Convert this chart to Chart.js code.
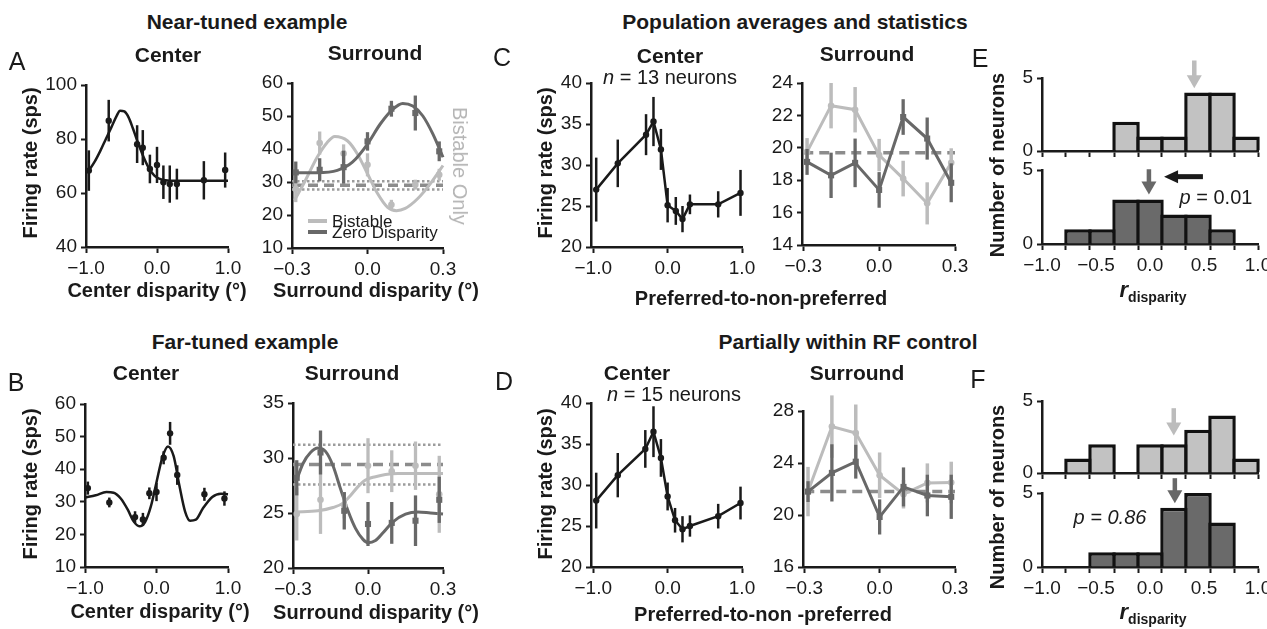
<!DOCTYPE html>
<html>
<head>
<meta charset="utf-8">
<script src="https://cdn.jsdelivr.net/npm/chart.js@4.4.1/dist/chart.umd.min.js"></script>
<style>
html, body { margin: 0; padding: 0; background: #fff; }
#fig { position: relative; width: 1267px; height: 629px; overflow: hidden; font-family: "Liberation Sans", Arial, sans-serif; color: #1a1a1a; }
#fig canvas { position: absolute; }
.t { position: absolute; white-space: nowrap; line-height: 1; transform: translate(-50%, -50%); }
.sw { position: absolute; height: 4px; }
</style>
</head>
<body>
<div id="fig"></div>
<script>
// ---- tick labels ----
const tickCenterX = [-1, 0, 1];
const tickSurrX = [-0.3, 0, 0.3];
const tickAcenY = [40, 60, 80, 100];
const tickAsurY = [10, 20, 30, 40, 50, 60];
const tickBcenY = [10, 20, 30, 40, 50, 60];
const tickBsurY = [20, 25, 30, 35];
const tickCcenY = [20, 25, 30, 35, 40];
const tickCsurY = [14, 16, 18, 20, 22, 24];
const tickDcenY = [20, 25, 30, 35, 40];
const tickDsurY = [16, 20, 24, 28];
const tickHistY = [0, 5];
const tickHistX = [-1, -0.5, 0, 0.5, 1];
const binEdges = [-1, -0.778, -0.556, -0.333, -0.111, 0.111, 0.333, 0.556, 0.778, 1];
const binCenters = [-0.889, -0.667, -0.444, -0.222, 0, 0.222, 0.444, 0.667, 0.889];

// ---- A: near-tuned example ----
const aCenX = [-0.96, -0.68, -0.28, -0.2, -0.1, 0.0, 0.09, 0.18, 0.28, 0.66, 0.96];
const aCenY = [68.3, 86.8, 78.1, 76.8, 68.9, 70.4, 64.0, 63.3, 63.3, 64.7, 68.5];
const aCenErr = [7.5, 7.7, 7.0, 6.5, 5.3, 6.7, 6.2, 6.9, 5.7, 7.1, 6.5];
const aFitX = [-0.96, -0.88, -0.8, -0.72, -0.64, -0.57, -0.52, -0.46, -0.4, -0.34, -0.28, -0.2, -0.12, -0.04, 0.04, 0.12, 0.25, 0.5, 1.0];
const aFitY = [68.3, 71.5, 75.5, 80, 84.5, 88.5, 90.5, 90.2, 88, 84, 79.5, 74, 69.5, 66.5, 65.2, 64.7, 64.5, 64.5, 64.5];

const surrX = [-0.285, -0.19, -0.095, 0.0, 0.095, 0.19, 0.285];
const aSurZeroY = [32.9, 33.7, 34.5, 42.3, 52.2, 50.9, 39.3];
const aSurZeroErr = [3.3, 3.5, 5.0, 2.8, 2.4, 5.3, 3.0];
const aSurBiY = [27.9, 41.8, 38.6, 35.2, 23.1, 29.2, 32.2];
const aSurBiErr = [4.0, 3.5, 2.8, 3.5, 1.5, 1.5, 1.8];
const aZeroFitX = [-0.29, -0.2, -0.12, -0.06, 0.0, 0.05, 0.1, 0.14, 0.18, 0.22, 0.26, 0.3];
const aZeroFitY = [32.8, 32.8, 33.5, 36, 41.5, 47.5, 52, 53.8, 53, 50, 44.5, 37.5];
const aBiFitX = [-0.29, -0.25, -0.2, -0.16, -0.13, -0.08, -0.04, 0.0, 0.04, 0.08, 0.115, 0.15, 0.2, 0.25, 0.3];
const aBiFitY = [24.5, 30, 37.5, 42, 43.8, 42.5, 38.5, 32.5, 26.5, 22.3, 21.3, 22, 25, 29.5, 35];
const aRef = [27.7, 29.0, 30.2];

// ---- B: far-tuned example ----
const bCenX = [-0.96, -0.66, -0.3, -0.19, -0.1, 0.0, 0.1, 0.19, 0.29, 0.67, 0.95];
const bCenY = [34.2, 29.8, 25.3, 24.6, 32.6, 33.0, 43.5, 51.0, 38.2, 32.3, 31.0];
const bCenErr = [2.0, 1.5, 1.8, 2.0, 1.8, 2.8, 2.0, 3.5, 3.0, 2.0, 2.2];
const bFitX = [-1.0, -0.85, -0.7, -0.6, -0.5, -0.4, -0.32, -0.24, -0.16, -0.08, 0.0, 0.08, 0.16, 0.24, 0.32, 0.4, 0.47, 0.55, 0.65, 0.78, 0.9, 1.0];
const bFitY = [31.3, 32.0, 33.0, 32.8, 31.0, 27.5, 24.0, 22.5, 23.8, 28.5, 36.0, 43.5, 47.0, 44.0, 35.0, 27.0, 24.2, 24.5, 28.0, 31.5, 32.5, 32.3];

const bSurZeroY = [28.2, 30.5, 25.2, 24.0, 24.1, 24.3, 26.2];
const bSurZeroErr = [1.6, 2.0, 1.7, 2.0, 1.9, 2.3, 2.1];
const bSurBiY = [24.9, 26.2, 25.7, 29.3, 28.8, 29.3, 26.7];
const bSurBiErr = [2.4, 3.1, 1.2, 2.5, 1.9, 2.2, 3.5];
const bZeroFitX = [-0.29, -0.26, -0.23, -0.2, -0.17, -0.14, -0.11, -0.08, -0.05, -0.02, 0.0, 0.03, 0.06, 0.1, 0.15, 0.2, 0.25, 0.3];
const bZeroFitY = [27.7, 29.5, 30.5, 30.9, 30.6, 29.3, 27.2, 25.2, 23.6, 22.6, 22.3, 22.5, 23.2, 24.2, 24.9, 25.1, 25.0, 24.9];
const bBiFitX = [-0.29, -0.2, -0.14, -0.1, -0.07, -0.04, -0.01, 0.03, 0.07, 0.12, 0.2, 0.3];
const bBiFitY = [25.1, 25.2, 25.5, 25.9, 26.6, 27.4, 28.0, 28.3, 28.5, 28.6, 28.6, 28.6];
const bRef = [27.6, 29.4, 31.2];

// ---- C: population averages ----
const cCenX = [-0.96, -0.67, -0.29, -0.19, -0.09, 0.0, 0.11, 0.2, 0.3, 0.68, 0.98];
const cCenY = [27.0, 30.2, 33.7, 35.3, 31.9, 25.1, 24.4, 23.4, 25.2, 25.2, 26.6];
const cCenErr = [3.9, 2.9, 2.5, 3.0, 2.5, 2.1, 1.7, 1.6, 1.2, 1.6, 2.8];
const cSurBiY = [19.75, 22.6, 22.35, 19.55, 18.1, 16.57, 19.07];
const cSurBiErr = [0.85, 1.4, 1.4, 1.0, 1.1, 1.3, 0.9];
const cSurZeroY = [19.13, 18.3, 19.07, 17.4, 21.9, 20.57, 17.84];
const cSurZeroErr = [0.8, 1.4, 1.5, 1.1, 1.1, 1.3, 1.2];
const cRef = 19.7;

// ---- D: partially within RF control ----
const dCenX = [-0.96, -0.67, -0.3, -0.19, -0.09, 0.0, 0.1, 0.2, 0.3, 0.68, 0.98];
const dCenY = [28.1, 31.2, 34.4, 36.5, 33.3, 28.6, 25.7, 24.6, 25.0, 26.2, 27.8];
const dCenErr = [3.4, 2.7, 2.3, 3.1, 2.3, 1.7, 1.5, 1.6, 1.3, 1.5, 2.0];
const dSurBiY = [21.8, 26.8, 26.3, 23.06, 21.6, 22.47, 22.5];
const dSurBiErr = [1.9, 2.4, 2.2, 1.75, 1.1, 1.5, 1.6];
const dSurZeroY = [21.8, 23.24, 24.1, 19.85, 22.16, 21.5, 21.4];
const dSurZeroErr = [0.8, 2.2, 1.3, 1.35, 1.5, 1.6, 1.7];
const dRef = 21.8;

// ---- E, F: r_disparity histograms ----
const eBistable = [0, 0, 0, 2, 1, 1, 4, 4, 1];
const eZero = [0, 1, 1, 3, 3, 2, 2, 1, 0];
const fBistable = [0, 1, 2, 0, 2, 2, 3, 4, 1];
const fZero = [0, 0, 1, 1, 1, 4, 5, 3, 0];
const meanE = [0.41, -0.01];
const meanF = [0.22, 0.23];

const ink = '#1a1a1a', light = '#bcbcbc', dark = '#686868', refGray = '#8c8c8c', dotGray = '#9c9c9c';
const histLight = '#c2c2c2', histDark = '#6a6a6a';
Chart.defaults.font.family = '"Liberation Sans", Arial, sans-serif';
Chart.defaults.color = ink;

const fig = document.getElementById('fig');
const PL = 70, PT = 32, PR = 45, PB = 45;

// error bars drawn under each dataset, through its own scales
const errorBars = {
    id: 'errorBars',
    beforeDatasetDraw(chart, args) {
        const ds = chart.data.datasets[args.index];
        if (!ds.errors) return;
        const ctx = chart.ctx, xs = chart.scales.x, ys = chart.scales.y;
        ctx.save();
        ctx.strokeStyle = ds.borderColor; ctx.lineWidth = ds.errWidth || 2.5;
        ds.data.forEach((p, i) => {
            const px = xs.getPixelForValue(p.x);
            ctx.beginPath();
            ctx.moveTo(px, ys.getPixelForValue(p.y - ds.errors[i]));
            ctx.lineTo(px, ys.getPixelForValue(p.y + ds.errors[i]));
            ctx.stroke();
        });
        ctx.restore();
    }
};

function drawArrow(ctx, x0, y0, x1, y1, color, shaft, headL, headW) {
    const ang = Math.atan2(y1 - y0, x1 - x0), len = Math.hypot(x1 - x0, y1 - y0);
    ctx.save(); ctx.translate(x0, y0); ctx.rotate(ang); ctx.fillStyle = color;
    ctx.fillRect(0, -shaft / 2, len - headL + 1, shaft);
    ctx.beginPath(); ctx.moveTo(len, 0); ctx.lineTo(len - headL, -headW / 2); ctx.lineTo(len - headL, headW / 2);
    ctx.closePath(); ctx.fill(); ctx.restore();
}
function arrowPlugin(items) {
    return {
        id: 'arrows',
        afterDatasetsDraw(chart) {
            const xs = chart.scales.x, ys = chart.scales.y;
            items.forEach(a => drawArrow(chart.ctx, xs.getPixelForValue(a.x0), ys.getPixelForValue(a.y0),
                xs.getPixelForValue(a.x1), ys.getPixelForValue(a.y1), a.color, a.shaft, a.headL, a.headW));
        }
    };
}

function near(v, list) { return list.some(u => Math.abs(u - v) < 1e-6); }
function fmt1(v) { return (v < 0 ? '\u2212' : '') + Math.abs(v).toFixed(1); }

function xAxis(min, max, ticks, labels, marks) {
    labels = labels || ticks; marks = marks || ticks;
    return {
        type: 'linear', min, max, offset: false,
        afterBuildTicks: s => { s.ticks = ticks.map(v => ({value: v})); },
        afterFit: s => { s.height = PB; },
        border: {color: ink, width: 2.5},
        grid: {offset: false, drawOnChartArea: false, tickLength: 6, tickWidth: 2,
            tickColor: c => (c.tick && near(c.tick.value, marks)) ? ink : 'rgba(0,0,0,0)'},
        ticks: {autoSkip: false, maxRotation: 0, minRotation: 0, padding: 4, font: {size: 19},
            callback: v => near(v, labels) ? fmt1(v) : ''}
    };
}
function yAxis(min, max, ticks) {
    return {
        type: 'linear', min, max,
        afterBuildTicks: s => { s.ticks = ticks.map(v => ({value: v})); },
        afterFit: s => { s.width = PL; },
        border: {color: ink, width: 2.5},
        grid: {drawOnChartArea: false, tickLength: 5, tickWidth: 2, tickColor: ink},
        ticks: {padding: 4, font: {size: 19}, callback: v => String(v)}
    };
}

function pts(xs, ys) { return xs.map((x, i) => ({x, y: ys[i]})); }
function markers(xs, ys, errs, color, style, r, ew) {
    return {data: pts(xs, ys), errors: errs, errWidth: ew, showLine: false, pointStyle: style, pointRadius: r,
        pointBackgroundColor: color, pointBorderWidth: 0, borderColor: color, clip: false};
}
function joined(xs, ys, errs, color, style, r, ew, lw) {
    return Object.assign(markers(xs, ys, errs, color, style, r, ew), {showLine: true, borderWidth: lw, tension: 0});
}
function curve(xs, ys, color, lw) {
    return {data: pts(xs, ys), showLine: true, pointRadius: 0, borderColor: color, borderWidth: lw,
        cubicInterpolationMode: 'monotone', clip: false};
}
function hline(y, x0, x1, color, lw, dash) {
    return {data: [{x: x0, y}, {x: x1, y}], showLine: true, pointRadius: 0, borderColor: color,
        borderWidth: lw, borderDash: dash, clip: false};
}
// bars overlap by half a border so shared edges are one stroke wide
function bars(counts, fill) {
    return {type: 'bar', data: pts(binCenters, counts), backgroundColor: fill, borderColor: '#111', borderWidth: 3.5,
        barThickness: 'flex', barPercentage: 1.146, categoryPercentage: 1, inflateAmount: 0, clip: false};
}

function makeChart(box, type, datasets, scales, extra) {
    const [l, t, r, b] = box;
    const w = r - l + PL + PR, h = b - t + PT + PB;
    const cv = document.createElement('canvas');
    cv.width = w; cv.height = h;
    cv.style.left = (l - PL) + 'px'; cv.style.top = (t - PT) + 'px';
    cv.style.width = w + 'px'; cv.style.height = h + 'px';
    fig.appendChild(cv);
    return new Chart(cv, {
        type: type,
        data: {datasets: datasets},
        options: {
            responsive: false, animation: false, devicePixelRatio: 1,
            layout: {padding: {left: 0, top: PT, right: PR, bottom: 0}, autoPadding: false},
            plugins: {legend: {display: false}, tooltip: {enabled: false}},
            scales: scales
        },
        plugins: [errorBars].concat(extra || [])
    });
}

// A center
makeChart([86, 85, 228, 247], 'scatter', [
    markers(aCenX, aCenY, aCenErr, ink, 'circle', 3.2, 2.5),
    curve(aFitX, aFitY, ink, 2.5)
], {x: xAxis(-1, 1, tickCenterX), y: yAxis(40, 100, tickAcenY)});

// A surround
makeChart([292, 83, 443, 248], 'scatter', [
    markers(surrX, aSurZeroY, aSurZeroErr, dark, 'rect', 4.3, 3.3),
    markers(surrX, aSurBiY, aSurBiErr, light, 'circle', 3.3, 3.3),
    curve(aZeroFitX, aZeroFitY, dark, 3),
    curve(aBiFitX, aBiFitY, light, 3),
    hline(aRef[0], -0.3, 0.3, dotGray, 2.5, [2.5, 2.5]),
    hline(aRef[1], -0.3, 0.3, refGray, 3.5, [10, 6]),
    hline(aRef[2], -0.3, 0.3, dotGray, 2.5, [2.5, 2.5])
], {x: xAxis(-0.3, 0.3, tickSurrX), y: yAxis(10, 60, tickAsurY)});

// B center
makeChart([85, 404, 228, 567], 'scatter', [
    markers(bCenX, bCenY, bCenErr, ink, 'circle', 3.2, 2.5),
    curve(bFitX, bFitY, ink, 2.5)
], {x: xAxis(-1, 1, tickCenterX), y: yAxis(10, 60, tickBcenY)});

// B surround
makeChart([293, 403, 443, 568], 'scatter', [
    markers(surrX, bSurZeroY, bSurZeroErr, dark, 'rect', 4.3, 3.3),
    markers(surrX, bSurBiY, bSurBiErr, light, 'circle', 3.3, 3.3),
    curve(bZeroFitX, bZeroFitY, dark, 3),
    curve(bBiFitX, bBiFitY, light, 3),
    hline(bRef[0], -0.3, 0.3, dotGray, 2.5, [2.5, 2.5]),
    hline(bRef[1], -0.3, 0.3, refGray, 3.5, [10, 6]),
    hline(bRef[2], -0.3, 0.3, dotGray, 2.5, [2.5, 2.5])
], {x: xAxis(-0.3, 0.3, tickSurrX), y: yAxis(20, 35, tickBsurY)});

// C center / surround
makeChart([591, 83, 742, 247], 'scatter', [
    joined(cCenX, cCenY, cCenErr, ink, 'circle', 3.2, 2.5, 2.5)
], {x: xAxis(-1.03, 1, tickCenterX), y: yAxis(20, 40, tickCcenY)});
makeChart([802, 83, 955, 245], 'scatter', [
    joined(surrX, cSurZeroY, cSurZeroErr, dark, 'rect', 4.3, 3.3, 3),
    joined(surrX, cSurBiY, cSurBiErr, light, 'circle', 3.3, 3.5, 3),
    hline(cRef, -0.3, 0.3, refGray, 3.5, [10, 6])
], {x: xAxis(-0.305, 0.3, tickSurrX), y: yAxis(14, 24, tickCsurY)});

// D center / surround
makeChart([591, 403, 742, 567], 'scatter', [
    joined(dCenX, dCenY, dCenErr, ink, 'circle', 3.2, 2.5, 2.5)
], {x: xAxis(-1.03, 1, tickCenterX), y: yAxis(20, 40, tickDcenY)});
makeChart([803, 411, 955, 567], 'scatter', [
    joined(surrX, dSurZeroY, dSurZeroErr, dark, 'rect', 4.3, 3.3, 3),
    joined(surrX, dSurBiY, dSurBiErr, light, 'circle', 3.3, 3.5, 3),
    hline(dRef, -0.3, 0.3, refGray, 3.5, [10, 6])
], {x: xAxis(-0.305, 0.3, tickSurrX), y: yAxis(16, 28, tickDsurY)});

// histograms
const histTicks = binEdges.concat([-0.5, 0, 0.5]).sort((a, b) => a - b);
function hist(box, counts, fill, withLabels, arrows) {
    return makeChart(box, 'bar', [bars(counts, fill)],
        {x: xAxis(-1, 1, histTicks, withLabels ? tickHistX : [], binEdges), y: yAxis(0, 5, tickHistY)},
        [arrowPlugin(arrows)]);
}
const vArrow = {shaft: 4.5, headL: 13, headW: 15};
hist([1042, 78, 1258, 151], eBistable, histLight, false, [
    Object.assign({x0: meanE[0], x1: meanE[0], y0: 6.2, y1: 4.3, color: light}, vArrow)
]);
hist([1042, 170, 1258, 244], eZero, histDark, true, [
    Object.assign({x0: meanE[1], x1: meanE[1], y0: 5.05, y1: 3.35, color: dark}, vArrow),
    {x0: 0.49, x1: 0.13, y0: 4.55, y1: 4.55, color: ink, shaft: 5, headL: 14, headW: 13}
]);
hist([1042, 401, 1258, 473], fBistable, histLight, false, [
    Object.assign({x0: meanF[0], x1: meanF[0], y0: 4.5, y1: 2.6, color: light}, vArrow)
]);
hist([1042, 493, 1258, 567], fZero, histDark, true, [
    Object.assign({x0: meanF[1], x1: meanF[1], y0: 6.0, y1: 4.3, color: dark}, vArrow)
]);

// ---- text ----
function txt(html, x, y, size, style) {
    const d = document.createElement('div');
    d.className = 't'; d.innerHTML = html;
    d.style.left = x + 'px'; d.style.top = y + 'px'; d.style.fontSize = size + 'px';
    if (style) Object.assign(d.style, style);
    fig.appendChild(d);
}
const B = {fontWeight: 'bold'};
const rotL = {fontWeight: 'bold', transform: 'translate(-50%,-50%) rotate(-90deg)'};

txt('Near-tuned example', 247, 21, 21, B);
txt('Far-tuned example', 245, 341, 21, B);
txt('Population averages and statistics', 795, 21, 21, B);
txt('Partially within RF control', 848, 341, 21, B);

txt('Center', 168, 54, 21, B); txt('Surround', 375, 52, 21, B);
txt('Center', 146, 372, 21, B); txt('Surround', 352, 372, 21, B);
txt('Center', 670, 55, 21, B); txt('Surround', 867, 53, 21, B);
txt('Center', 637, 372, 21, B); txt('Surround', 857, 372, 21, B);
txt('<i>n</i> = 13 neurons', 670, 77, 20);
txt('<i>n</i> = 15 neurons', 674, 394, 20);

txt('A', 17, 61, 25); txt('B', 16, 382, 25); txt('C', 502, 57, 25);
txt('D', 504, 381, 25); txt('E', 980, 58, 25); txt('F', 978, 379, 25);

txt('Firing rate (sps)', 30, 163, 20, rotL);
txt('Firing rate (sps)', 30, 484, 20, rotL);
txt('Firing rate (sps)', 545, 163, 20, rotL);
txt('Firing rate (sps)', 545, 484, 20, rotL);
txt('Number of neurons', 997, 165, 20, rotL);
txt('Number of neurons', 997, 497, 20, rotL);

txt('Center disparity (°)', 157, 290, 20, B);
txt('Surround disparity (°)', 376, 290, 20, B);
txt('Center disparity (°)', 160, 611, 20, B);
txt('Surround disparity (°)', 376, 612, 20, B);
txt('Preferred-to-non-preferred', 761, 298, 20, B);
txt('Preferred-to-non -preferred', 763, 614, 20, B);
txt('<i style="font-size:22px">r</i><span style="font-size:14px;position:relative;top:5px">disparity</span>', 1153, 290, 20, B);
txt('<i style="font-size:22px">r</i><span style="font-size:14px;position:relative;top:5px">disparity</span>', 1153, 612, 20, B);

txt('<i>p</i> = 0.01', 1216, 197, 20);
txt('<i>p = 0.86</i>', 1110, 517, 20);

txt('Bistable Only', 460, 166, 20, {color: '#b5b5b5', transform: 'translate(-50%,-50%) rotate(90deg)'});
txt('Bistable', 332, 221, 17, {transform: 'translate(0,-50%)'});
txt('Zero Disparity', 332, 232, 17, {transform: 'translate(0,-50%)'});
function swatch(x, y, w, color) {
    const s = document.createElement('div');
    s.className = 'sw';
    s.style.left = x + 'px'; s.style.top = (y - 2) + 'px'; s.style.width = w + 'px'; s.style.background = color;
    fig.appendChild(s);
}
swatch(308, 221, 19, light);
swatch(308, 232, 19, dark);
</script>
</body>
</html>
